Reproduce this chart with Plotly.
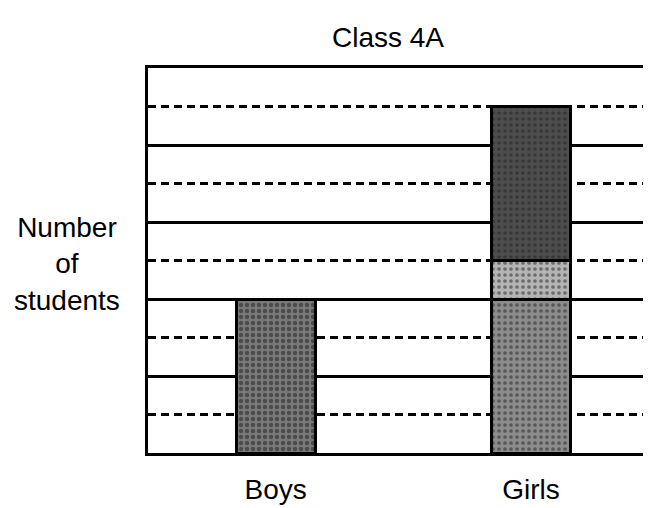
import plotly.graph_objects as go

categories = ["Boys", "Girls"]
boys_count = [4]
girls_segments = [4, 1, 4]          # stacked parts of the Girls bar
segment_colors = ["#8c8c8c", "#b4b4b4", "#4d4d4d"]
boys_color = "#6a6a6a"
y_max = 10
title_text = "Class 4A"
y_label = "Number<br>of<br>students"

FONT = "Liberation Sans, Arial, sans-serif"
FS = 28

fig = go.Figure()
fig.add_trace(go.Bar(
    x=[categories[0]], y=boys_count, width=0.31,
    marker=dict(color=boys_color, line=dict(color="black", width=3),
                pattern=dict(shape=".", fgcolor="#1e1e1e", bgcolor="#7a7a7a",
                             size=6, solidity=0.45)),
    showlegend=False, hoverinfo="skip"))
for val, col in zip(girls_segments, segment_colors):
    fig.add_trace(go.Bar(
        x=[categories[1]], y=[val], width=0.31,
        marker=dict(color=col, line=dict(color="black", width=3),
                    pattern=dict(shape=".", fgcolor="#222222", bgcolor=col,
                                 size=6, solidity=0.3)),
        showlegend=False, hoverinfo="skip"))

# page body has an 8px default margin, so the figure is sized/offset to fit
fig.update_layout(
    width=643, height=500,
    barmode="stack",
    paper_bgcolor="white", plot_bgcolor="white",
    margin=dict(l=140, r=0, t=60, b=55, autoexpand=False),
    font=dict(family=FONT, size=FS, color="black"),
    xaxis=dict(
        type="category", range=[-0.5, 1.47], automargin=False,
        showline=True, linecolor="black", linewidth=3, mirror=True,
        showgrid=False, ticks="", ticklabelstandoff=9,
        tickfont=dict(family=FONT, size=FS, color="black"),
    ),
    yaxis=dict(
        range=[0, y_max], dtick=2, showticklabels=False, ticks="",
        automargin=False,
        showline=True, linecolor="black", linewidth=3, mirror=False,
        showgrid=True, gridcolor="black", gridwidth=3, zeroline=False,
        minor=dict(dtick=1, showgrid=True, gridcolor="black", gridwidth=3,
                   griddash="8px,5px"),
    ),
    annotations=[
        dict(text=title_text, xref="paper", yref="paper",
             x=0.477, y=1 + 30 / 385, xanchor="center", yanchor="middle",
             showarrow=False, font=dict(family=FONT, size=FS, color="black")),
        dict(text=y_label, xref="paper", yref="paper",
             x=-0.161, y=0.49, xanchor="center", yanchor="middle",
             align="center", showarrow=False,
             font=dict(family=FONT, size=FS, color="black")),
    ],
)

fig.write_html("out.html")
